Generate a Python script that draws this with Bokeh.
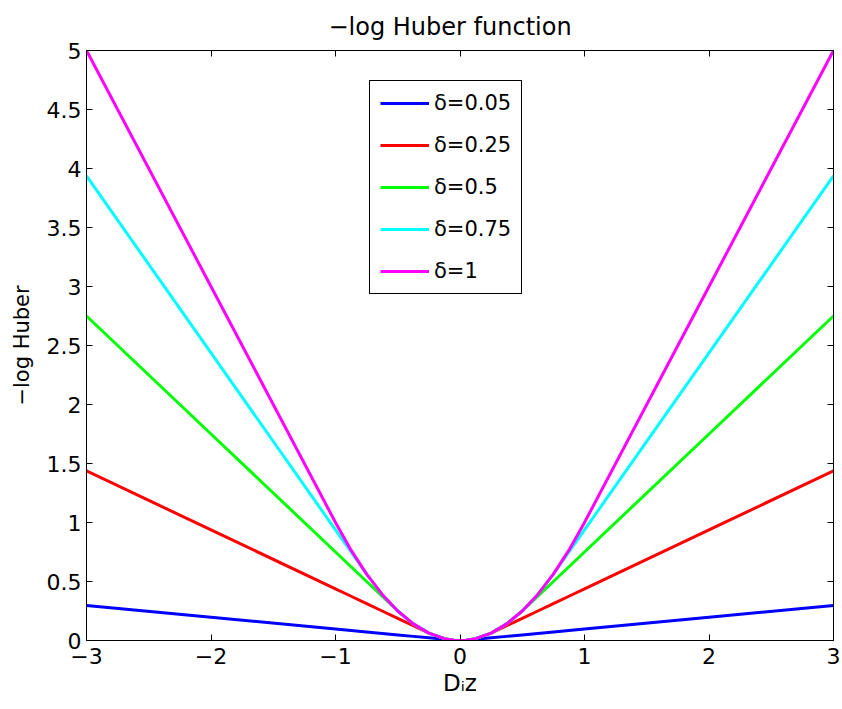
from bokeh.plotting import figure
from bokeh.models import Range1d, FixedTicker, LinearAxis, Legend, LegendItem
from bokeh.embed import file_html
from bokeh.resources import INLINE

# ---- data ----
x_vals = [-3, -2, -1, -0.875, -0.75, -0.625, -0.5, -0.375, -0.25, -0.125, -0.05, 0,
          0.05, 0.125, 0.25, 0.375, 0.5, 0.625, 0.75, 0.875, 1, 2, 3]

y_d005 = [0.2975, 0.1975, 0.0975, 0.085, 0.0725, 0.06, 0.0475, 0.035, 0.0225, 0.01, 0.0025, 0,
          0.0025, 0.01, 0.0225, 0.035, 0.0475, 0.06, 0.0725, 0.085, 0.0975, 0.1975, 0.2975]
y_d025 = [1.4375, 0.9375, 0.4375, 0.375, 0.3125, 0.25, 0.1875, 0.125, 0.0625, 0.0156, 0.0025, 0,
          0.0025, 0.0156, 0.0625, 0.125, 0.1875, 0.25, 0.3125, 0.375, 0.4375, 0.9375, 1.4375]
y_d05 = [2.75, 1.75, 0.75, 0.625, 0.5, 0.375, 0.25, 0.1406, 0.0625, 0.0156, 0.0025, 0,
         0.0025, 0.0156, 0.0625, 0.1406, 0.25, 0.375, 0.5, 0.625, 0.75, 1.75, 2.75]
y_d075 = [3.9375, 2.4375, 0.9375, 0.75, 0.5625, 0.3906, 0.25, 0.1406, 0.0625, 0.0156, 0.0025, 0,
          0.0025, 0.0156, 0.0625, 0.1406, 0.25, 0.3906, 0.5625, 0.75, 0.9375, 2.4375, 3.9375]
y_d1 = [5, 3, 1, 0.7656, 0.5625, 0.3906, 0.25, 0.1406, 0.0625, 0.0156, 0.0025, 0,
        0.0025, 0.0156, 0.0625, 0.1406, 0.25, 0.3906, 0.5625, 0.7656, 1, 3, 5]

series_labels = ["δ=0.05", "δ=0.25", "δ=0.5", "δ=0.75", "δ=1"]
series_colors = ["#0000ff", "#ff0000", "#00ff00", "#00ffff", "#ff00ff"]
series_values = [y_d005, y_d025, y_d05, y_d075, y_d1]

x_ticks = [-3, -2, -1, 0, 1, 2, 3]
x_tick_labels = ["−3", "−2", "−1", "0", "1", "2", "3"]
y_ticks = [0, 0.5, 1, 1.5, 2, 2.5, 3, 3.5, 4, 4.5, 5]
y_tick_labels = ["0", "0.5", "1", "1.5", "2", "2.5", "3", "3.5", "4", "4.5", "5"]

FONT = "DejaVu Sans"

p = figure(width=842, height=709, output_backend="svg", toolbar_location=None,
           x_range=Range1d(-3, 3), y_range=Range1d(0, 5),
           min_border_left=86, min_border_right=9, min_border_top=50, min_border_bottom=69,
           title="−log Huber function")
p.title.align = "left"
p.title.offset = 242
p.title.standoff = 20
p.title.text_font = FONT
p.title.text_font_size = "24px"
p.title.text_font_style = "normal"
p.title.text_color = "black"

p.xgrid.visible = False
p.ygrid.visible = False
p.outline_line_color = "black"
p.outline_line_width = 1
p.background_fill_color = "white"
p.border_fill_color = "white"

renderers = []
for vals, col in zip(series_values, series_colors):
    r = p.line(x_vals, vals, line_color=col, line_width=3)
    renderers.append(r)

def style_axis(ax, ticks, labels, show_labels=True):
    ax.ticker = FixedTicker(ticks=ticks)
    ax.major_tick_in = 6
    ax.major_tick_out = 0
    ax.minor_tick_in = 0
    ax.minor_tick_out = 0
    ax.axis_line_color = "black"
    ax.major_tick_line_color = "black"
    ax.major_label_text_font = FONT
    ax.major_label_text_color = "black"
    if show_labels:
        ax.major_label_text_font_size = "22px"
        ax.major_label_overrides = {t: l for t, l in zip(ticks, labels)}
    else:
        ax.major_label_text_font_size = "1px"
        ax.major_label_overrides = {t: "" for t in ticks}
        ax.major_label_standoff = 0

xa = p.xaxis[0]
ya = p.yaxis[0]
style_axis(xa, x_ticks, x_tick_labels)
style_axis(ya, y_ticks, y_tick_labels)
xa.major_label_standoff = 7
ya.major_label_standoff = 5

ya.axis_label = "−log Huber"
ya.axis_label_text_font = FONT
ya.axis_label_text_font_size = "21px"
ya.axis_label_text_font_style = "normal"
ya.axis_label_text_color = "black"
ya.axis_label_standoff = 10

xa.axis_label = "Dᵢz"
xa.axis_label_text_font = FONT
xa.axis_label_text_font_size = "23px"
xa.axis_label_text_font_style = "normal"
xa.axis_label_text_color = "black"
xa.axis_label_standoff = 3

top_ax = LinearAxis()
style_axis(top_ax, x_ticks, x_tick_labels, show_labels=False)
p.add_layout(top_ax, "above")
right_ax = LinearAxis()
style_axis(right_ax, y_ticks, y_tick_labels, show_labels=False)
p.add_layout(right_ax, "right")

legend = Legend(items=[LegendItem(label=l, renderers=[r]) for l, r in zip(series_labels, renderers)],
                location=(283, 346))
legend.glyph_width = 49
legend.glyph_height = 20
legend.label_height = 20
legend.spacing = 18
legend.padding = 10
legend.margin = 0
legend.label_standoff = 5
legend.label_text_font = FONT
legend.label_text_font_size = "21px"
legend.label_text_color = "black"
legend.border_line_color = "black"
legend.border_line_width = 1
legend.border_line_alpha = 1
legend.background_fill_alpha = 1
p.add_layout(legend, "center")

open("out.html", "w").write(file_html(p, INLINE))
